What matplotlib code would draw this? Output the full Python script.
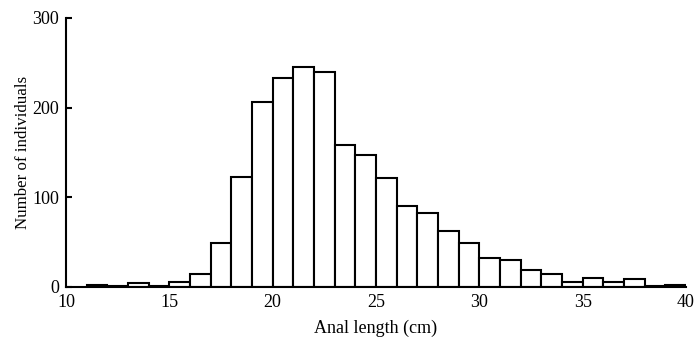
import numpy as np
import matplotlib.pyplot as plt

plt.rcParams['font.family'] = ['Liberation Serif', 'DejaVu Serif']

bin_left = list(range(11, 40))
counts = [2, 1, 4, 1, 5, 15, 49, 123, 206, 233, 245, 240, 158, 147, 122,
          90, 83, 62, 49, 32, 30, 19, 15, 6, 10, 5, 9, 1, 2]

fig = plt.figure(figsize=(6.95, 3.38), dpi=100)
ax = fig.add_axes([0.095, 0.151, 0.892, 0.796])

ax.bar(bin_left, counts, width=1, align='edge', color='white',
       edgecolor='black', linewidth=1.5)

ax.set_xlim(10, 40)
ax.set_ylim(0, 300)
ax.set_xticks([10, 15, 20, 25, 30, 35, 40])
ax.set_yticks([0, 100, 200, 300])
ax.spines['top'].set_visible(False)
ax.spines['right'].set_visible(False)
ax.spines['left'].set_linewidth(1.5)
ax.spines['bottom'].set_linewidth(1.5)
ax.tick_params(axis='y', direction='in', length=4, width=1.5, labelsize=13, pad=5)
ax.tick_params(axis='x', length=0, labelsize=13, pad=5)

ax.set_xlabel('Anal length (cm)', fontsize=13, labelpad=6)
ax.set_ylabel('Number of individuals', fontsize=12.2, labelpad=1)

fig.savefig('out.png', dpi=100)
